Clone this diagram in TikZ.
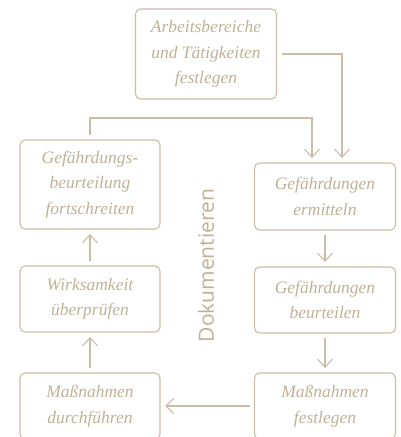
\documentclass[tikz,border=0pt]{standalone}
\usepackage{fontspec}
\setmainfont{Liberation Serif}
\newfontfamily\dokfont{Open Sans}
\usetikzlibrary{arrows.meta}
\definecolor{tanline}{RGB}{203,189,165}
\definecolor{tantext}{RGB}{192,177,150}
\tikzset{
  box/.style={draw=tanline, line width=1.1pt, rounded corners=5pt, align=center,
    text=tantext, font=\fontsize{17.5}{25.5}\selectfont\itshape, inner sep=0pt,
    outer sep=5pt, minimum width=141pt},
  arr/.style={draw=tanline, line width=1.1pt, -{Straight Barb[length=8pt,width=15pt]}},
  ln/.style={draw=tanline, line width=1.1pt}
}
\begin{document}
\begin{tikzpicture}[x=1pt,y=-1pt]
\useasboundingbox (0,0) rectangle (400,437);
\clip (0,0) rectangle (400,437);
\node[box, minimum height=90pt] (a) at (206,54) {Arbeitsbereiche\\und Tätigkeiten\\festlegen};
\node[box, minimum width=140pt, minimum height=89pt] (l1) at (90,184.5) {Gefährdungs-\\beurteilung\\fortschreiten};
\node[box, minimum height=67pt] (r1) at (325,196.5) {Gefährdungen\\ermitteln};
\node[box, minimum height=66pt] (r2) at (325,300) {Gefährdungen\\beurteilen};
\node[box, minimum height=66pt] (r3) at (325,406) {Maßnahmen\\festlegen};
\node[box, minimum width=140pt, minimum height=66pt] (l2) at (90,299) {Wirksamkeit\\überprüfen};
\node[box, minimum width=140pt, minimum height=66pt] (l3) at (90,406) {Maßnahmen\\durchführen};
\node[rotate=90, text=tantext, font=\dokfont\fontsize{21}{21}\selectfont, inner sep=0pt] (dok) at (206,265.5) {Dokumentieren};
\draw[arr] (a.east) -| ([xshift=17pt]r1.north);
\draw[arr] (l1.north) -- ++(0,-17) -| ([xshift=-13pt]r1.north);
\draw[arr] (r1.south) -- (r2.north);
\draw[arr] (r2.south) -- (r3.north);
\draw[arr] (r3.west) -- (l3.east);
\draw[arr] (l3.north) -- (l2.south);
\draw[arr] (l2.north) -- (l1.south);
\end{tikzpicture}
\end{document}
